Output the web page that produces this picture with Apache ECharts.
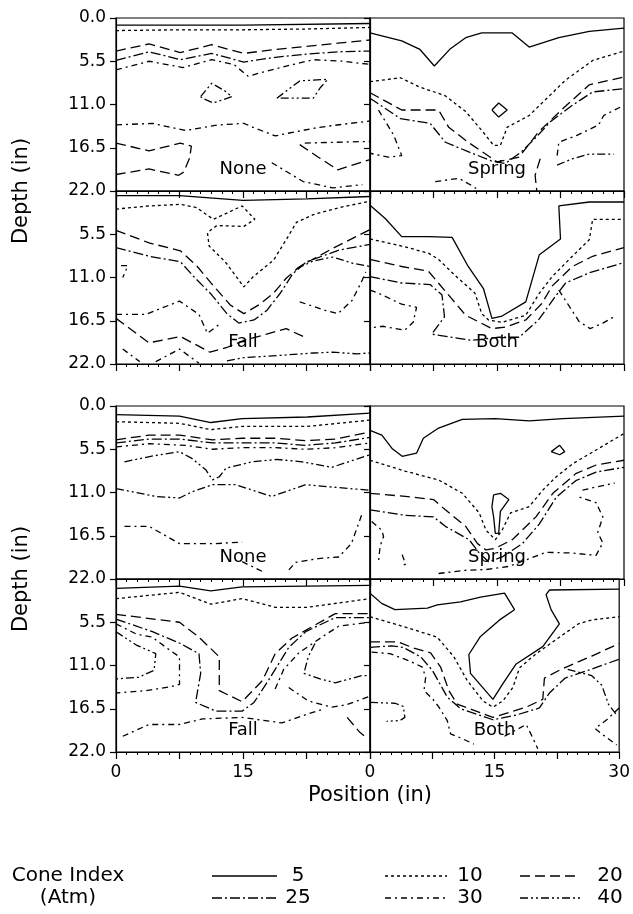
<!DOCTYPE html>
<html>
<head>
<meta charset="utf-8">
<script src="https://cdn.jsdelivr.net/npm/echarts@6/dist/echarts.min.js"></script>
<style>
  html, body { margin: 0; padding: 0; background: #fff; }
  #chart { width: 633px; height: 914px; }
</style>
</head>
<body>
<div id="chart"></div>
<script>
// cone index contour levels (Atm)
const levels = [5, 10, 20, 25, 30, 40];
const depthTicks = [0, 5.5, 11, 16.5, 22];
const positionTicks = [0, 15, 30];
const treatments = ['None', 'Spring', 'Fall', 'Both', 'None', 'Spring', 'Fall', 'Both'];
const labelAt = [15, 19.2];

// each contour: [level, [[position, depth], ...]]
const noneA = [
  [5, [[0,0.9],[15,0.9],[30,0.7]]],
  [10, [[0,1.6],[7.5,1.5],[15,1.5],[22.5,1.4],[30,1.2]]],
  [20, [[0,4.2],[3.9,3.3],[7.6,4.4],[11.3,3.4],[15.1,4.5],[18.8,4.0],[22.5,3.6],[26.2,3.2],[30,2.8]]],
  [25, [[0,5.4],[3.9,4.3],[7.6,5.3],[11.3,4.5],[15.1,5.6],[18.8,5.0],[22.5,4.6],[26.2,4.3],[30,4.2]]],
  [30, [[0,6.6],[3.9,5.5],[7.9,6.3],[11.3,5.3],[13.9,5.9],[15.6,7.4],[19.4,6.3],[23.3,5.3],[26.8,5.5],[30,5.9]]],
  [40, [[10.0,10.0],[11.3,8.3],[12.9,9.3],[13.7,10.0],[11.5,10.8],[10.2,10.2],[10.0,10.0]]],
  [40, [[19.0,10.2],[21.7,8.0],[25.0,7.8],[24.1,8.9],[23.3,10.2],[20.1,10.2],[19.0,10.2]]],
  [30, [[0,13.6],[4.3,13.4],[8.2,14.3],[12.1,13.6],[15.1,13.4],[16.2,13.9],[18.8,15.0],[20.1,14.7],[24.0,13.9],[28.4,13.3],[30,13.1]]],
  [20, [[0,15.9],[3.9,16.9],[7.6,15.9],[8.9,16.3],[8.7,17.8],[8.0,19.6],[7.4,20.0],[3.9,19.2],[0,19.9]]],
  [30, [[22.3,15.9],[26,15.8],[30,15.7]]],
  [20, [[21.7,16.1],[23.9,17.7],[26.2,19.3],[30,18.0]]],
  [30, [[18.4,18.4],[22.1,20.8],[25.6,21.6],[29.1,21.2]]]
];
const springA = [
  [5, [[0,1.9],[3.75,2.9],[5.9,4.0],[7.6,6.1],[9.5,3.9],[11.3,2.5],[13.2,1.9],[16.8,1.9],[18.8,3.7],[22.3,2.5],[25.9,1.7],[30,1.3]]],
  [5, [[14.4,11.7],[15.2,10.8],[16.2,11.7],[15.2,12.6],[14.4,11.7]]],
  [10, [[0,8.1],[3.6,7.6],[5.7,8.7],[8.9,9.9],[11.3,11.9],[13.2,14.3],[14.6,16.2],[15.4,16.2],[16.2,13.9],[18.8,12.4],[20.8,10.3],[23.1,7.9],[26.3,5.4],[30,4.2]]],
  [20, [[0,9.5],[3.75,11.7],[8.1,11.7],[9.3,13.9],[11.6,15.8],[14.2,17.7],[15.0,18.3],[17.6,17.7],[19.9,14.5],[22.7,11.6],[25.9,8.5],[30,7.5]]],
  [25, [[0,10.2],[3.6,12.8],[7.1,13.4],[8.9,15.8],[11.6,17.0],[14.4,18.2],[16.0,18.5],[17.9,17.0],[19.5,15.3],[21.3,13.2],[23.9,11.1],[26.3,9.4],[30,9.0]]],
  [30, [[22.1,17.5],[22.3,15.8],[24.5,14.9],[27.0,13.6],[27.6,12.4],[30,11.1]]],
  [40, [[22.1,18.7],[23.9,17.9],[25.9,17.3],[28.8,17.3]]],
  [30, [[1.0,11.7],[2.8,14.9],[3.75,17.5],[2.2,17.7],[0,17.2]]],
  [30, [[7.7,20.8],[10.5,20.4],[12.0,21.3],[13,22]]],
  [20, [[20.1,17.9],[19.5,20.0],[19.7,22]]]
];
const fallA = [
  [5, [[0,0.6],[7.5,0.6],[15,1.2],[22.5,1.0],[30,0.7]]],
  [10, [[0,2.3],[3.9,1.9],[7.6,1.7],[9.5,2.1],[11.5,3.6],[14.9,1.9],[16.4,3.6],[15.1,4.5],[11.9,4.4],[10.8,5.3],[11.0,7.0],[12.9,9.0],[15.1,12.2],[16.2,10.9],[18.6,8.8],[20.1,6.2],[21.3,4.0],[23.3,3.0],[26.4,2.1],[30,1.3]]],
  [20, [[0,5.0],[3.9,6.6],[7.6,7.6],[9.6,9.6],[11.3,11.8],[13.5,14.5],[15.1,15.6],[17.0,14.4],[18.6,13.0],[20.1,11.1],[21.7,9.6],[25.6,7.3],[30,4.9]]],
  [25, [[0,7.2],[3.9,8.3],[7.6,9.0],[9.2,10.9],[11.3,13.2],[13.1,15.6],[14.5,16.8],[16.3,16.4],[17.8,15.2],[19.4,13.0],[20.9,10.5],[22.5,9.0],[26.4,7.5],[30,6.8]]],
  [30, [[0.6,9.5],[1.4,9.5],[0.8,11.0]]],
  [40, [[21.3,9.9],[23.3,8.9],[25.6,8.4],[28,9.2],[30,9.6]]],
  [30, [[21.7,14.1],[24.8,15.2],[26.2,15.6],[27.9,13.9],[28.5,12.6],[29.1,11.3],[29.5,10.3]]],
  [30, [[0,15.7],[3.5,15.7],[7.5,14.0],[9.8,15.7],[10.8,18.1],[12.4,16.8]]],
  [20, [[0,16.2],[3.9,19.3],[7.6,18.5],[11.1,20.5],[13.1,19.9],[15.1,19.0],[17.8,18.2],[20.1,17.5],[22.3,18.6]]],
  [30, [[0.8,20.1],[2.8,21.7]]],
  [30, [[4.7,21.7],[7.5,20.1],[9.8,21.9]]],
  [40, [[13.1,21.6],[15.1,21.2],[19.4,20.9],[23.3,20.6],[25.6,20.5],[28.4,20.7],[30,20.6]]]
];
const bothA = [
  [5, [[0,1.8],[1.8,3.5],[3.75,5.8],[6.9,5.8],[9.7,5.9],[11.6,9.6],[13.4,12.4],[14.4,16.2],[15.6,15.9],[18.4,14.1],[20.0,8.1],[22.5,6.1],[22.3,1.9],[25.9,1.4],[30,1.4]]],
  [10, [[0,6.1],[3.75,7.0],[6.9,7.9],[8.1,8.7],[10.1,10.8],[12.4,13.0],[13.2,15.6],[14.0,16.4],[15.6,16.7],[18.4,15.8],[20.0,13.0],[21.5,10.9],[23.9,8.3],[25.9,6.2],[26.3,3.6],[30,3.6]]],
  [20, [[0,8.7],[3.75,9.6],[6.9,10.2],[9.1,13.0],[11.3,15.8],[14.4,17.5],[16.0,17.3],[18.4,16.4],[20.3,14.3],[21.5,12.1],[23.9,9.6],[26.3,8.3],[30,7.2]]],
  [25, [[0,10.9],[3.75,11.7],[7.1,11.9],[8.5,13.2],[8.8,16.0],[7.3,18.2],[12.0,19.0],[15.2,18.6],[17.6,18.6],[19.9,16.4],[21.9,13.4],[23.1,11.7],[25.9,10.4],[30,9.1]]],
  [30, [[0,12.6],[1.0,13.0],[3.75,14.4],[5.5,14.8],[5.1,16.7],[4.1,17.7],[1.5,17.2],[0,17.4]]],
  [30, [[22.3,12.6],[24.7,16.6],[26.0,17.5],[27.5,16.8],[28.8,16.0]]]
];
const noneB = [
  [5, [[0,1.1],[7.5,1.3],[11.2,2.1],[14.9,1.6],[22.6,1.4],[30,0.9]]],
  [10, [[0,2.0],[7.5,2.2],[11.2,3.0],[14.9,2.6],[22.6,2.6],[30,1.8]]],
  [20, [[0,4.3],[3.9,3.7],[7.5,3.7],[11.4,4.3],[14.9,4.1],[18.8,4.1],[22.4,4.4],[25.9,4.2],[30,3.3]]],
  [25, [[0,4.7],[3.9,4.2],[7.5,4.2],[11.4,4.7],[14.9,4.7],[18.8,4.7],[22.4,5.0],[25.9,4.7],[30,4.0]]],
  [30, [[0,5.2],[3.9,4.8],[8.2,5.0],[11.4,5.5],[14.9,5.3],[18.8,5.3],[22.4,5.5],[25.9,5.3],[30,4.7]]],
  [40, [[1.0,7.1],[4.1,6.4],[7.5,5.8],[9.0,6.7],[10.6,8.1],[11.4,9.4],[12.2,9.0],[13.0,7.9],[16.1,7.1],[19.0,6.8],[22.0,7.1],[25.5,7.8],[29.4,6.4],[30,6.2]]],
  [40, [[0,10.5],[4.7,11.5],[7.5,11.7],[9.0,10.9],[11.4,10.0],[14.1,10.0],[18.4,11.5],[22.4,10.0],[27.5,10.5],[30,10.7]]],
  [30, [[1.0,15.3],[3.9,15.3],[7.5,17.5],[11.8,17.5],[14.9,17.3]]],
  [30, [[29.0,13.9],[27.8,17.5],[26.3,19.2],[23.9,19.4],[21.2,19.9],[20.2,21.1]]],
  [30, [[14.9,19.8],[17.6,21.2]]]
];
const springB = [
  [5, [[0,3.1],[1.4,3.7],[2.6,5.4],[3.8,6.4],[5.5,6.0],[6.3,4.1],[8.1,2.8],[10.9,1.7],[14.8,1.6],[18.8,1.9],[22.8,1.6],[30,1.3]]],
  [5, [[21.4,5.8],[22.4,5.0],[23.0,5.8],[22.4,6.2],[21.4,5.8]]],
  [5, [[14.6,11.3],[15.4,11.1],[16.4,11.9],[15.4,13.4],[15.2,16.2],[14.8,16.2],[14.6,14.1],[14.4,12.8],[14.6,11.3]]],
  [10, [[0,6.9],[4.2,8.3],[8.1,9.4],[10.9,11.1],[12.9,13.6],[13.7,15.8],[14.8,17.0],[15.6,15.8],[16.6,13.6],[18.8,12.8],[20.4,10.7],[22.0,9.0],[24.0,7.3],[26.7,5.6],[30,3.5]]],
  [20, [[0,11.1],[4.2,11.5],[7.5,11.9],[8.9,13.2],[11.3,15.3],[12.7,17.5],[13.7,18.3],[14.8,18.1],[16.8,17.0],[19.6,14.1],[21.6,11.1],[24.3,8.6],[26.7,7.5],[30,6.9]]],
  [25, [[0,13.2],[4.2,13.9],[7.5,14.1],[8.9,15.3],[11.7,17.0],[12.9,18.7],[14.0,19.8],[15.6,19.2],[18.0,17.5],[20.0,15.0],[22.0,11.6],[24.3,9.5],[26.7,8.4],[30,7.8]]],
  [30, [[0.2,14.7],[1.4,15.8],[1.6,16.6],[1.2,17.8],[1.0,19.8]]],
  [30, [[3.8,18.9],[4.2,20.1],[3.8,20.3]]],
  [30, [[8.1,21.3],[11.1,20.9],[13.7,20.8],[16.4,20.4],[20.8,18.6],[23.9,18.7],[26.7,19.0],[27.5,17.4],[26.9,16.1],[27.5,14.1],[26.7,12.3],[24.5,11.5]]],
  [30, [[25.1,10.7],[26.7,10.3],[28.9,9.8]]]
];
const fallB = [
  [5, [[0,1.2],[7.5,0.9],[11.2,1.5],[14.9,1.0],[22.6,0.9],[30,0.8]]],
  [10, [[0,2.5],[7.5,1.7],[11.2,3.2],[14.9,2.5],[18.8,3.6],[22.6,3.6],[30,2.5]]],
  [20, [[0,4.5],[7.5,5.5],[9.8,7.4],[12.2,9.9],[12.2,14.2],[14.9,15.6],[17.3,12.9],[18.8,9.5],[20.8,7.5],[25.9,4.4],[30,4.4]]],
  [25, [[0,5.1],[4.3,6.7],[7.6,8.2],[9.8,9.5],[10.0,12.0],[9.4,15.7],[11.8,16.8],[14.9,16.8],[16.3,15.7],[18.0,12.9],[20.4,8.7],[22.4,6.7],[25.9,4.9],[30,4.9]]],
  [30, [[0,5.7],[2.4,7.0],[4.3,7.4],[5.9,8.7],[7.5,9.9],[7.5,13.4],[6.5,13.7],[3.5,14.2],[0,14.5]]],
  [40, [[0,6.7],[2.4,8.4],[4.7,9.5],[4.5,11.6],[2.7,12.5],[0,12.7]]],
  [30, [[18.8,14.0],[19.8,11.5],[21.6,9.4],[24.3,7.4],[26.3,6.0],[30,5.5]]],
  [40, [[23.5,8.2],[22.7,9.9],[22.2,12.0],[24.1,12.7],[25.9,13.2],[29.0,12.3],[30,12.3]]],
  [30, [[20.4,13.8],[22.7,15.5],[25.5,16.3],[27.2,16.0],[29.0,15.3],[30,14.9]]],
  [30, [[0.8,20.0],[3.9,18.5],[7.5,18.5],[10.2,17.8],[14.9,17.6],[19.6,18.3],[22.0,17.4],[24.3,16.6]]],
  [20, [[27.3,17.6],[28.8,19.5],[29.6,20.2]]]
];
const bothB = [
  [5, [[0,1.8],[1.4,3.1],[3.0,3.9],[6.9,3.7],[8.1,3.3],[10.9,2.9],[13.3,2.3],[16.2,1.8],[17.4,3.9],[15.6,5.2],[13.3,7.3],[11.9,9.6],[12.1,12.0],[14.8,15.3],[16.0,13.3],[17.6,10.8],[20.8,8.6],[22.8,5.7],[21.8,3.9],[21.2,2.0],[21.6,1.4],[30,1.3]]],
  [10, [[0,4.8],[4.2,6.1],[8.1,7.4],[10.1,9.9],[11.7,12.9],[13.6,15.5],[14.8,16.3],[16.0,15.5],[17.2,13.8],[18.0,11.3],[20.0,9.5],[22.8,7.4],[25.1,5.7],[26.7,5.2],[30,4.8]]],
  [20, [[0,8.0],[3.4,8.0],[5.3,8.8],[7.3,9.4],[8.5,11.2],[9.5,14.2],[10.5,15.9],[14.8,17.6],[18.8,16.3],[20.8,15.3],[21.0,12.6],[23.0,11.5],[26.7,9.8],[30,8.2]]],
  [25, [[0,8.7],[2.6,8.5],[4.0,8.7],[6.1,9.9],[7.5,11.6],[9.3,15.0],[10.9,16.5],[14.8,17.9],[17.6,17.3],[20.4,16.4],[21.6,14.5],[23.5,12.6],[26.3,11.6],[30,10.2]]],
  [30, [[0.2,9.3],[2.4,9.5],[4.7,10.4],[6.3,11.2],[6.7,12.5],[6.5,14.2],[7.5,15.2],[8.3,16.3],[9.3,18.0],[9.7,19.7],[10.9,20.2],[12.5,21.0]]],
  [40, [[0,15.7],[3.0,15.8],[4.0,16.2],[4.2,17.6],[3.6,18.0],[2,18.1]]],
  [40, [[23.8,11.5],[26.7,12.3],[27.9,13.5],[28.7,15.9],[29.7,17.3]]],
  [30, [[30,16.4],[28.5,17.9],[27.1,19.0],[27.9,19.7],[29.7,21.1]]],
  [30, [[16.2,20.0],[18.8,18.5],[19.6,20.2],[20.2,21.6]]]
];
const panels = [noneA, springA, fallA, bothA, noneB, springB, fallB, bothB];

// legend rows of the cone index key
const keyRows = [[5, 10, 20], [25, 30, 40]];

const FONT = 'DejaVu Sans';
const dashFor = { 5: 'solid', 10: [3, 3], 20: [10, 5], 25: [10, 3, 2, 3], 30: [6, 4, 2, 4], 40: [8, 3, 2, 3, 2, 3] };

const colLeft = [116, 370];
const rowTop = [18, 191, 406, 579];
const panelW = 254, panelH = 173;

const grids = panels.map((_, i) => ({
  left: colLeft[i % 2], top: rowTop[Math.floor(i / 2)], width: panelW, height: panelH,
  show: true, borderColor: '#000', borderWidth: 1.2, backgroundColor: 'transparent'
}));

const xAxes = panels.map((_, i) => ({
  gridIndex: i, type: 'value', min: 0, max: 30, interval: 7.5,
  axisLine: { show: true, onZero: false, lineStyle: { color: '#000', width: 1.2 } },
  axisTick: { show: true, length: 7, lineStyle: { color: '#000', width: 1.2 } },
  minorTick: { show: true, splitNumber: 6, length: 3, lineStyle: { color: '#000', width: 1 } },
  splitLine: { show: false },
  axisLabel: {
    show: i >= 6, color: '#000', fontFamily: FONT, fontSize: 17, margin: 12,
    formatter: v => (positionTicks.includes(v) && !(i === 6 && v === 30)) ? String(v) : ''
  }
}));

const yAxes = panels.map((_, i) => ({
  gridIndex: i, type: 'value', inverse: true, min: depthTicks[0], max: depthTicks[depthTicks.length - 1], interval: 5.5,
  axisLine: { show: true, onZero: false, lineStyle: { color: '#000', width: 1.2 } },
  axisTick: { show: true, length: 6, lineStyle: { color: '#000', width: 1.2 } },
  splitLine: { show: false },
  axisLabel: {
    show: i % 2 === 0, color: '#000', fontFamily: FONT, fontSize: 17, margin: 10,
    showMinLabel: !(i === 2 || i === 6),
    formatter: v => v.toFixed(1)
  }
}));

const series = [];
panels.forEach((contours, i) => {
  contours.forEach(([lvl, pts]) => {
    series.push({
      type: 'line', xAxisIndex: i, yAxisIndex: i, data: pts,
      symbol: 'none', silent: true, clip: true,
      lineStyle: { color: '#000', width: 1.3, type: dashFor[lvl] }
    });
  });
  series.push({
    type: 'scatter', xAxisIndex: i, yAxisIndex: i, data: [labelAt],
    symbolSize: 1, itemStyle: { color: 'transparent', opacity: 1 }, silent: true,
    label: {
      show: true, position: 'inside', formatter: treatments[i], color: '#000',
      fontFamily: FONT, fontSize: 18, textBorderWidth: 0
    }
  });
});

const graphic = [
  { type: 'text', x: 22, y: 191, rotation: Math.PI / 2,
    style: { text: 'Depth (in)', font: '21px ' + FONT, fill: '#000', align: 'center', verticalAlign: 'middle' } },
  { type: 'text', x: 22, y: 579, rotation: Math.PI / 2,
    style: { text: 'Depth (in)', font: '21px ' + FONT, fill: '#000', align: 'center', verticalAlign: 'middle' } },
  { type: 'text', x: 370, y: 796,
    style: { text: 'Position (in)', font: '21px ' + FONT, fill: '#000', align: 'center', verticalAlign: 'middle' } },
  { type: 'text', x: 68, y: 876,
    style: { text: 'Cone Index', font: '20px ' + FONT, fill: '#000', align: 'center', verticalAlign: 'middle' } },
  { type: 'text', x: 68, y: 898,
    style: { text: '(Atm)', font: '20px ' + FONT, fill: '#000', align: 'center', verticalAlign: 'middle' } }
];
const keyLineX = [[212, 277], [385, 447], [520, 580]];
const keyTextX = [298, 470, 610];
const keyRowY = [876, 898];
keyRows.forEach((row, r) => {
  row.forEach((lvl, c) => {
    const d = dashFor[lvl];
    graphic.push({
      type: 'line', shape: { x1: keyLineX[c][0], y1: keyRowY[r], x2: keyLineX[c][1], y2: keyRowY[r] },
      style: { stroke: '#000', lineWidth: 1.3, lineDash: d === 'solid' ? null : d }
    });
    graphic.push({
      type: 'text', x: keyTextX[c], y: keyRowY[r],
      style: { text: String(lvl), font: '20px ' + FONT, fill: '#000', align: 'center', verticalAlign: 'middle' }
    });
  });
});

const chart = echarts.init(document.getElementById('chart'));
chart.setOption({
  animation: false,
  backgroundColor: '#fff',
  grid: grids,
  xAxis: xAxes,
  yAxis: yAxes,
  series: series,
  graphic: graphic
});
</script>
</body>
</html>
